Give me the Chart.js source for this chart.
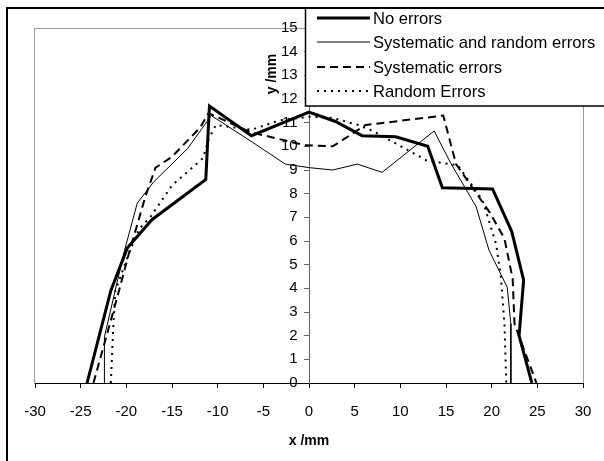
<!DOCTYPE html>
<html><head><meta charset="utf-8">
<script src="https://cdn.jsdelivr.net/npm/chart.js@4/dist/chart.umd.min.js"></script>
<style>html,body{margin:0;padding:0;background:#fff;}#wrap{width:604px;height:461px;}</style>
</head><body><div id="wrap"><canvas id="c" width="604" height="461"></canvas></div>
<script>
const seriesNames = ["No errors", "Systematic and random errors", "Systematic errors", "Random Errors"];
const xTickLabels = [-30,-25,-20,-15,-10,-5,0,5,10,15,20,25,30];
const yTickLabels = [0,1,2,3,4,5,6,7,8,9,10,11,12,13,14,15];

const noErrX = [-24.3,-21.7,-19.9,-17.2,-11.3,-10.9,-6.3,0,2.9,5.8,9.5,13.0,14.6,20.1,22.2,23.5,23.0,24.4];
const noErrY = [0,3.9,5.7,6.9,8.6,11.7,10.45,11.45,11.05,10.45,10.4,10.0,8.25,8.2,6.4,4.35,2.0,0];

const sysRandX = [-22.4,-22.4,-20.2,-18.8,-17.0,-13.3,-10.7,-5.9,-2.6,0,2.6,5.3,8.0,13.7,15.5,18.3,19.7,21.7,22.1,22.1];
const sysRandY = [0,1.95,5.6,7.6,8.5,9.9,11.3,10.1,9.25,9.1,9.0,9.25,8.9,10.65,9.3,7.45,5.62,4.05,2.5,0];

const sysX = [-23.6,-20.8,-19.7,-17.9,-16.8,-15.0,-11.9,-11.0,-6.4,-0.5,2.6,6.2,14.7,16.1,19.8,21.4,22.3,22.5,24.9];
const sysY = [0,3.9,5.5,7.9,9.1,9.56,10.8,11.4,10.6,10.05,10.0,10.9,11.3,9.25,7.2,6.1,4.4,2.5,0];

const randX = [-21.7,-21.4,-21.2,-19.7,-18.6,-17.3,-15.0,-11.6,-11.0,-10.2,-6.3,-3.2,0,2.6,5.4,7.0,12.9,16.3,19.0,20.5,21.0,21.4,21.6];
const randY = [0,2.6,3.9,5.5,6.5,7.05,8.35,9.5,10.3,10.9,10.7,11.1,11.25,11.2,10.9,10.65,9.4,9.2,7.73,5.85,4.5,2.5,0];

const styles = [
  {w:3, dash:[]},
  {w:1, dash:[]},
  {w:2, dash:[8,5]},
  {w:2, dash:[2,5]}
];
function pts(xs, ys){ return xs.map((x,i)=>({x:x, y:ys[i]})); }
const allData = [pts(noErrX,noErrY), pts(sysRandX,sysRandY), pts(sysX,sysY), pts(randX,randY)];

const FONT = "'Liberation Sans', Arial, sans-serif";

const deco = {
  id:'deco',
  beforeDraw(chart){
    const c = chart.ctx;
    c.save(); c.fillStyle='#fff'; c.fillRect(0,0,chart.width,chart.height);
    const a = chart.chartArea;
    c.strokeStyle='#999'; c.lineWidth=1;
    c.strokeRect(Math.round(a.left)-0.5, Math.round(a.top)+0.5, Math.round(a.right-a.left)+1, Math.round(a.bottom-a.top));
    c.restore();
  },
  afterDraw(chart){
    const c = chart.ctx;
    c.save();
    c.fillStyle='#000'; c.font = "bold 14px " + FONT;
    c.translate(272, 74); c.rotate(-Math.PI/2);
    c.textAlign='center'; c.textBaseline='middle';
    c.fillText('y /mm', 0, 0);
    c.restore();
    c.save();
    c.fillStyle='#fff'; c.fillRect(305,8,310,98);
    c.strokeStyle='#000'; c.lineWidth=1.5;
    c.strokeRect(305.5,8,320,98);
    const rows = [18,42,67,91];
    seriesNames.forEach((n,i)=>{
      c.beginPath(); c.setLineDash(styles[i].dash); c.lineWidth=styles[i].w; c.strokeStyle='#000';
      c.moveTo(317,rows[i]); c.lineTo(370,rows[i]); c.stroke();
      c.setLineDash([]);
      c.fillStyle='#000'; c.font = "16.6px " + FONT; c.textAlign='left'; c.textBaseline='middle';
      c.fillText(n, 373, rows[i]+1);
    });
    c.strokeStyle='#000'; c.lineWidth=2;
    c.strokeRect(7,8,620,480);
    c.restore();
  }
};

new Chart(document.getElementById('c'), {
  type:'scatter',
  data:{ datasets: seriesNames.map((n,i)=>({
    label:n, data:allData[i], showLine:true, pointRadius:0, borderColor:'#000',
    borderWidth:styles[i].w, borderDash:styles[i].dash, fill:false, tension:0
  }))},
  options:{
    responsive:false, animation:false, devicePixelRatio:1,
    layout:{padding:{left:35, right:21, top:28, bottom:0}},
    plugins:{legend:{display:false}, tooltip:{enabled:false}},
    scales:{
      x:{type:'linear', position:'bottom', min:-30, max:30,
        afterBuildTicks(s){ s.ticks = xTickLabels.map(v=>({value:v})); },
        afterFit(s){ s.height = 78; s.paddingLeft=0; s.paddingRight=0; },
        ticks:{color:'#000', font:{family:FONT, size:15}, padding:15, maxRotation:0, autoSkip:false},
        grid:{drawOnChartArea:false, drawTicks:true, tickLength:5, color:'#000'},
        border:{color:'#000', width:1},
        title:{display:true, text:'x /mm', color:'#000', font:{family:FONT, size:14, weight:'bold'}, padding:{top:4, bottom:11}}
      },
      y:{type:'linear', position:{x:0}, min:0, max:15,
        afterBuildTicks(s){ s.ticks = yTickLabels.map(v=>({value:v})); },
        afterFit(s){ s.paddingTop=0; s.paddingBottom=0; },
        ticks:{color:'#000', font:{family:FONT, size:15}, autoSkip:false,
          callback:(v)=> String(v) + '  \u2009'},
        grid:{drawOnChartArea:false, drawTicks:true, tickLength:5, color:'#666'},
        border:{color:'#666', width:1}
      }
    }
  },
  plugins:[deco]
});
</script>
</body></html>
